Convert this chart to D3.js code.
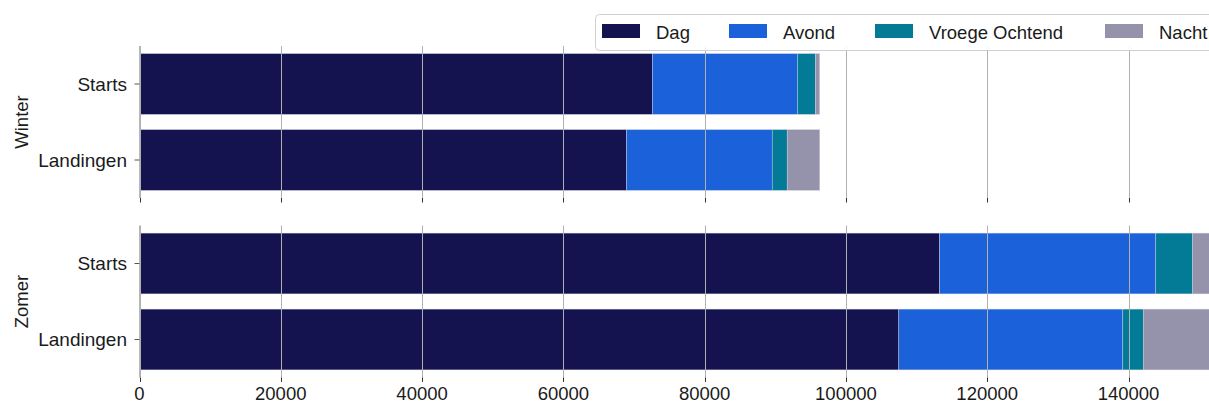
<!DOCTYPE html>
<html>
<head>
<meta charset="utf-8">
<script src="https://cdn.jsdelivr.net/npm/d3@7"></script>
<style>
  html, body { margin: 0; padding: 0; background: #fff; overflow: hidden; }
  svg { display: block; font-family: "Liberation Sans", Arial, Helvetica, sans-serif; }
</style>
</head>
<body>
<svg id="chart" width="1209" height="405"></svg>
<script>
// ---- data ----
const seasons = ["Winter", "Zomer"];
const categories = ["Starts", "Landingen"];
const seriesNames = ["Dag", "Avond", "Vroege Ochtend", "Nacht"];
const seriesColors = ["#15134f", "#1b61da", "#037b97", "#9592ab"];

const winterDag   = [72600, 68940];
const winterAvond = [20530, 20620];
const winterVroeg = [2550, 2120];
const winterNacht = [610, 4620];

const zomerDag   = [113250, 107490];
const zomerAvond = [30620, 31710];
const zomerVroeg = [5200, 2880];
const zomerNacht = [2940, 9920];

const xTicks = [0, 20000, 40000, 60000, 80000, 100000, 120000, 140000];
const xMax = 160000;

// ---- build tables ----
function table(dag, avond, vroeg, nacht) {
  return categories.map((c, i) => ({
    cat: c, "Dag": dag[i], "Avond": avond[i], "Vroege Ochtend": vroeg[i], "Nacht": nacht[i]
  }));
}
const panelsData = [
  { season: seasons[0], rows: table(winterDag, winterAvond, winterVroeg, winterNacht), y0: 46, y1: 198 },
  { season: seasons[1], rows: table(zomerDag, zomerAvond, zomerVroeg, zomerNacht),   y0: 225.5, y1: 377.5 }
];

const svg = d3.select("#chart");
const left = 139.5;
const x = d3.scaleLinear().domain([0, xMax]).range([left, left + xMax * 0.0070643]);
const color = d3.scaleOrdinal().domain(seriesNames).range(seriesColors);
const stack = d3.stack().keys(seriesNames);

panelsData.forEach((p, pi) => {
  const g = svg.append("g");
  const y = d3.scaleBand().domain(categories).range([p.y0, p.y1]).paddingInner(0.2).paddingOuter(0.1);
  const layers = stack(p.rows);

  // bars
  g.selectAll("g.layer").data(layers).enter().append("g")
    .attr("fill", d => color(d.key))
    .selectAll("rect").data(d => d).enter().append("rect")
      .attr("x", d => x(d[0]))
      .attr("width", d => x(d[1]) - x(d[0]))
      .attr("y", d => y(d.data.cat))
      .attr("height", y.bandwidth())
      .attr("stroke", "#d6d6e6")
      .attr("stroke-width", 0.4);

  // gridlines (on top of bars)
  g.selectAll("line.grid").data(xTicks).enter().append("line")
    .attr("x1", d => Math.round(x(d)) + 0.5).attr("x2", d => Math.round(x(d)) + 0.5)
    .attr("y1", p.y0).attr("y2", p.y1)
    .attr("stroke", "#b0b0b0").attr("stroke-width", 1);

  // left spine
  g.append("line").attr("x1", left).attr("x2", left).attr("y1", p.y0).attr("y2", p.y1)
    .attr("stroke", "#b8b8b8").attr("stroke-width", 1);

  // x ticks
  g.selectAll("line.xt").data(xTicks).enter().append("line")
    .attr("x1", d => Math.round(x(d)) + 0.5).attr("x2", d => Math.round(x(d)) + 0.5)
    .attr("y1", p.y1).attr("y2", p.y1 + 4.5)
    .attr("stroke", "#333").attr("stroke-width", 1);

  // y ticks & labels
  categories.forEach(c => {
    const cy = y(c) + y.bandwidth() / 2;
    g.append("line").attr("x1", left - 5).attr("x2", left).attr("y1", cy).attr("y2", cy)
      .attr("stroke", "#555").attr("stroke-width", 1);
    g.append("text").attr("x", 127).attr("y", cy).attr("dy", "0.36em")
      .attr("text-anchor", "end").attr("font-size", 19).attr("fill", "#1a1a1a").text(c);
  });

  // season label
  g.append("text").attr("transform", `translate(28,${(p.y0 + p.y1) / 2}) rotate(-90)`)
    .attr("text-anchor", "middle").attr("font-size", 18.5).attr("fill", "#1a1a1a").text(p.season);

  // x tick labels for bottom panel only
  if (pi === panelsData.length - 1) {
    g.selectAll("text.xl").data(xTicks).enter().append("text")
      .attr("x", d => x(d)).attr("y", 400)
      .attr("text-anchor", "middle").attr("font-size", 18.5).attr("fill", "#1a1a1a")
      .text(d => String(d));
  }
});

// legend
const legend = svg.append("g");
legend.append("rect").attr("x", 595.5).attr("y", 14.5).attr("width", 700).attr("height", 36)
  .attr("rx", 4).attr("fill", "#fff").attr("fill-opacity", 0.85).attr("stroke", "#d0d0d0");
const legendX = [602, 729, 875, 1105];
seriesNames.forEach((s, i) => {
  legend.append("rect").attr("x", legendX[i]).attr("y", 24).attr("width", 38).attr("height", 14)
    .attr("fill", color(s));
  legend.append("text").attr("x", legendX[i] + 54).attr("y", 38.5)
    .attr("font-size", 18.5).attr("fill", "#1a1a1a").text(s);
});
</script>
</body>
</html>
